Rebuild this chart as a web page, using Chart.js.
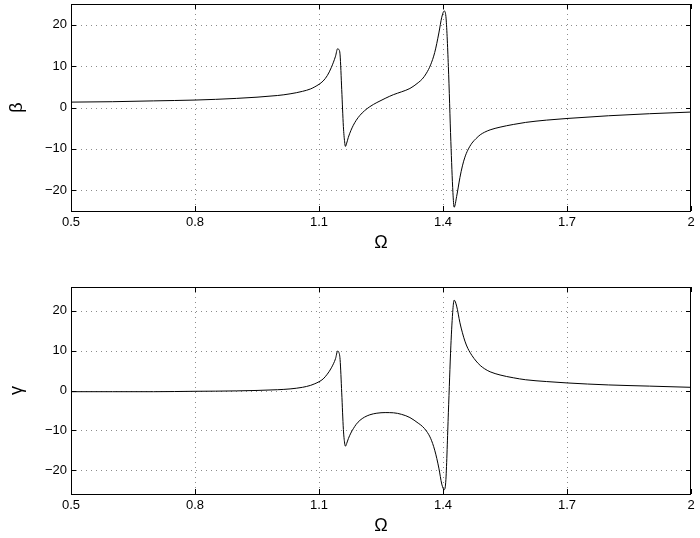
<!DOCTYPE html>
<html>
<head>
<meta charset="utf-8">
<script src="https://cdn.jsdelivr.net/npm/chart.js@4.4.1/dist/chart.umd.min.js"></script>
<style>
  body { margin: 0; background: #fff; }
  canvas { position: absolute; left: 0; }
</style>
</head>
<body>
<canvas id="betaChart" width="700" height="255" style="top:0px"></canvas>
<canvas id="gammaChart" width="700" height="255" style="top:283px"></canvas>
<script>
// values
const omega = [0.5, 0.6, 0.7, 0.8, 0.9, 1.0, 1.03, 1.06, 1.08, 1.09, 1.10, 1.11, 1.12, 1.13, 1.14,
    1.145, 1.148, 1.151, 1.155, 1.159, 1.162, 1.164, 1.167, 1.171, 1.177,
    1.183, 1.19, 1.199, 1.21, 1.223, 1.24, 1.26, 1.28, 1.30, 1.32,
    1.34, 1.35, 1.36, 1.37, 1.38, 1.39, 1.397, 1.403, 1.407, 1.413,
    1.419, 1.424, 1.427, 1.433, 1.441, 1.447, 1.453, 1.46, 1.47, 1.48,
    1.49, 1.50, 1.514, 1.538, 1.57, 1.6, 1.65, 1.7, 1.8, 1.9, 2.0];
const beta = [1.3, 1.4, 1.6, 1.8, 2.2, 2.9, 3.3, 3.9, 4.5, 5.0, 5.6, 6.4, 7.7, 9.7, 12.4,
    14.2, 14.0, 12.7, 4.3, -4.6, -8.3, -9.4, -8.6, -7.2, -5.6,
    -4.3, -3.1, -1.9, -0.8, 0.2, 1.2, 2.2, 3.1, 3.8, 4.6,
    6.0, 6.9, 8.3, 10.3, 13.3, 18.0, 21.8, 23.3, 22.0, 9.9,
    -8.2, -20.5, -24.1, -21.5, -16.9, -14.1, -12.0, -10.3, -8.6, -7.5,
    -6.6, -6.0, -5.4, -4.75, -4.1, -3.6, -3.05, -2.65, -2.0, -1.5, -1.1];
const gamma = [-0.3, -0.3, -0.3, -0.2, -0.1, 0.2, 0.4, 0.8, 1.3, 1.7, 2.2, 2.9, 4.1, 5.7, 8.0,
    9.9, 9.6, 7.8, -0.6, -9.8, -13.2, -14.0, -13.3, -12.1, -10.7,
    -9.6, -8.5, -7.5, -6.7, -6.1, -5.7, -5.55, -5.6, -6.0, -6.8,
    -8.2, -9.0, -10.2, -12.0, -15.0, -19.5, -23.5, -24.9, -22.4, -5.6,
    11.2, 20.4, 22.7, 21.2, 17.0, 14.5, 12.4, 10.6, 8.8, 7.4,
    6.3, 5.5, 4.7, 3.9, 3.2, 2.7, 2.25, 1.9, 1.4, 1.1, 0.8];
const xTicks = [0.5, 0.8, 1.1, 1.4, 1.7, 2];
const yTicks = [-20, -10, 0, 10, 20];

const fontFamily = "'Liberation Sans', Arial, Helvetica, sans-serif";

// matlab style: dotted grid, full box, ticks pointing inward
const matlabAxes = {
    id: 'matlabAxes',
    beforeDatasetsDraw(chart) {
        const { ctx, chartArea: a, scales: { x, y } } = chart;
        ctx.save();
        ctx.strokeStyle = '#8c8c8c';
        ctx.lineWidth = 1;
        ctx.setLineDash([1, 4]);
        ctx.beginPath();
        for (const v of xTicks.slice(1, -1)) {
            const px = Math.round(x.getPixelForValue(v)) + 0.5;
            ctx.moveTo(px, a.top);
            ctx.lineTo(px, a.bottom);
        }
        for (const v of yTicks) {
            const py = Math.round(y.getPixelForValue(v)) + 0.5;
            ctx.moveTo(a.left, py);
            ctx.lineTo(a.right, py);
        }
        ctx.stroke();
        ctx.restore();
    },
    afterDatasetsDraw(chart) {
        const { ctx, chartArea: a, scales: { x, y } } = chart;
        const len = 5;
        ctx.save();
        ctx.strokeStyle = '#000';
        ctx.lineWidth = 1;
        ctx.beginPath();
        for (const v of xTicks) {
            const px = Math.round(x.getPixelForValue(v)) + 0.5;
            ctx.moveTo(px, a.bottom);
            ctx.lineTo(px, a.bottom - len);
            ctx.moveTo(px, a.top);
            ctx.lineTo(px, a.top + len);
        }
        for (const v of yTicks) {
            const py = Math.round(y.getPixelForValue(v)) + 0.5;
            ctx.moveTo(a.left, py);
            ctx.lineTo(a.left + len, py);
            ctx.moveTo(a.right, py);
            ctx.lineTo(a.right - len, py);
        }
        ctx.stroke();
        ctx.strokeRect(Math.round(a.left) + 0.5, Math.round(a.top) + 0.5,
            Math.round(a.right - a.left) - 1, Math.round(a.bottom - a.top));
        ctx.restore();
    }
};

function makeChart(id, values, yLimit, yLabel) {
    const ctx = document.getElementById(id);
    return new Chart(ctx, {
        type: 'line',
        data: {
            datasets: [{
                data: omega.map((w, i) => ({ x: w, y: values[i] })),
                borderColor: '#000',
                borderWidth: 1,
                pointRadius: 0,
                fill: false,
                cubicInterpolationMode: 'monotone',
            }]
        },
        options: {
            responsive: false,
            animation: false,
            layout: { padding: { top: 4, right: 9, left: 0, bottom: 0 } },
            scales: {
                x: {
                    type: 'linear',
                    min: 0.5,
                    max: 2,
                    afterBuildTicks: s => { s.ticks = xTicks.map(v => ({ value: v })); },
                    afterFit: s => { s.height = 44; s.paddingLeft = 0; s.paddingRight = 0; },
                    grid: { display: false, drawTicks: false },
                    border: { display: false },
                    ticks: {
                        padding: 4,
                        color: '#000',
                        autoSkip: false,
                        maxRotation: 0,
                        font: { family: fontFamily, size: 13 },
                        callback: v => String(v),
                    },
                    title: {
                        display: true,
                        text: 'Ω',
                        color: '#000',
                        font: { family: fontFamily, size: 18 },
                        padding: { top: 0, bottom: 1 },
                    },
                },
                y: {
                    type: 'linear',
                    min: -yLimit,
                    max: yLimit,
                    afterBuildTicks: s => { s.ticks = yTicks.map(v => ({ value: v })); },
                    afterFit: s => { s.width = 71; s.paddingTop = 0; s.paddingBottom = 0; },
                    grid: { display: false, drawTicks: false },
                    border: { display: false },
                    ticks: {
                        padding: 4,
                        color: '#000',
                        font: { family: fontFamily, size: 13 },
                        callback: v => String(v).replace('-', '\u2212'),
                    },
                    title: {
                        display: true,
                        text: yLabel,
                        color: '#000',
                        font: { family: fontFamily, size: 18 },
                        padding: { top: 6, bottom: 0 },
                    },
                },
            },
            plugins: {
                legend: { display: false },
                tooltip: { enabled: false },
            }
        },
        plugins: [matlabAxes]
    });
}

makeChart('betaChart', beta, 25, 'β');
makeChart('gammaChart', gamma, 26, 'γ');
</script>
</body>
</html>
